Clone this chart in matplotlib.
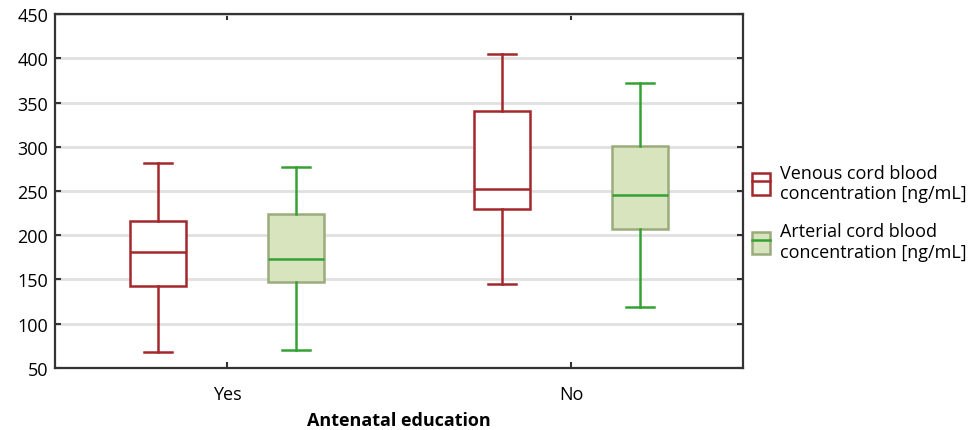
# Cord blood concentration by antenatal education

import matplotlib.pyplot as plt
from matplotlib.patches import Patch
from matplotlib.lines import Line2D
from matplotlib.legend_handler import HandlerTuple

plt.rcParams['font.family'] = ['Open Sans', 'DejaVu Sans']

groups = ['Yes', 'No']

# whisker low, Q1, median, Q3, whisker high
venous_low = [68, 145]
venous_q1 = [143, 230]
venous_med = [181, 252]
venous_q3 = [216, 340]
venous_high = [282, 405]

arterial_low = [70, 119]
arterial_q1 = [147, 207]
arterial_med = [173, 245]
arterial_q3 = [224, 301]
arterial_high = [277, 372]

red = '#a3282c'
green = '#35a135'
fill = '#d7e4bd'
fill_edge = '#9aac7c'


def make_stats(low, q1, med, q3, high):
    return [dict(whislo=a, q1=b, med=c, q3=d, whishi=e, fliers=[])
            for a, b, c, d, e in zip(low, q1, med, q3, high)]


fig = plt.figure(figsize=(9.74, 4.31), dpi=100)
ax = fig.add_axes([0.0565, 0.144, 0.7065, 0.821])

ax.set_axisbelow(True)
ax.yaxis.grid(True, color='#e0e0e0', linewidth=2)

pos = list(range(len(groups)))
offset = 0.2
width = 0.163

ax.bxp(make_stats(venous_low, venous_q1, venous_med, venous_q3, venous_high),
       positions=[p - offset for p in pos], widths=width, patch_artist=True,
       showfliers=False,
       boxprops=dict(facecolor='white', edgecolor=red, linewidth=1.8),
       medianprops=dict(color=red, linewidth=1.8),
       whiskerprops=dict(color=red, linewidth=1.8),
       capprops=dict(color=red, linewidth=1.8), capwidths=width / 2)

ax.bxp(make_stats(arterial_low, arterial_q1, arterial_med, arterial_q3, arterial_high),
       positions=[p + offset for p in pos], widths=width, patch_artist=True,
       showfliers=False,
       boxprops=dict(facecolor=fill, edgecolor=fill_edge, linewidth=1.8),
       medianprops=dict(color=green, linewidth=1.8),
       whiskerprops=dict(color=green, linewidth=1.8),
       capprops=dict(color=green, linewidth=1.8), capwidths=width / 2)

ax.set_xlim(-0.5, 1.5)
ax.set_ylim(50, 450)
ax.set_yticks(range(50, 451, 50))
ax.set_xticks(pos)
ax.set_xticklabels(groups)
ax.tick_params(axis='both', direction='in', labelsize=13, color='#333333',
               length=4, width=1.5, top=True, right=True)
ax.tick_params(axis='x', pad=12)
ax.tick_params(axis='y', pad=5)
for s in ax.spines.values():
    s.set_color('#333333')
    s.set_linewidth(1.6)

ax.set_xlabel('Antenatal education', fontsize=13, fontweight='bold', labelpad=6)

h1 = (Patch(facecolor='white', edgecolor=red, linewidth=1.8),
      Line2D([0], [0], color=red, linewidth=1.8))
h2 = (Patch(facecolor=fill, edgecolor=fill_edge, linewidth=1.8),
      Line2D([0], [0], color=green, linewidth=1.8))
ax.legend([h1, h2],
          ['Venous cord blood\nconcentration [ng/mL]',
           'Arterial cord blood\nconcentration [ng/mL]'],
          handler_map={tuple: HandlerTuple(ndivide=1, pad=0)},
          loc='center left', bbox_to_anchor=(1.0, 0.44), frameon=False,
          fontsize=13, handlelength=1.0, handleheight=1.5, handletextpad=0.55,
          labelspacing=1.1, borderaxespad=0.2, borderpad=0.3)

fig.savefig('out.png', dpi=100)
